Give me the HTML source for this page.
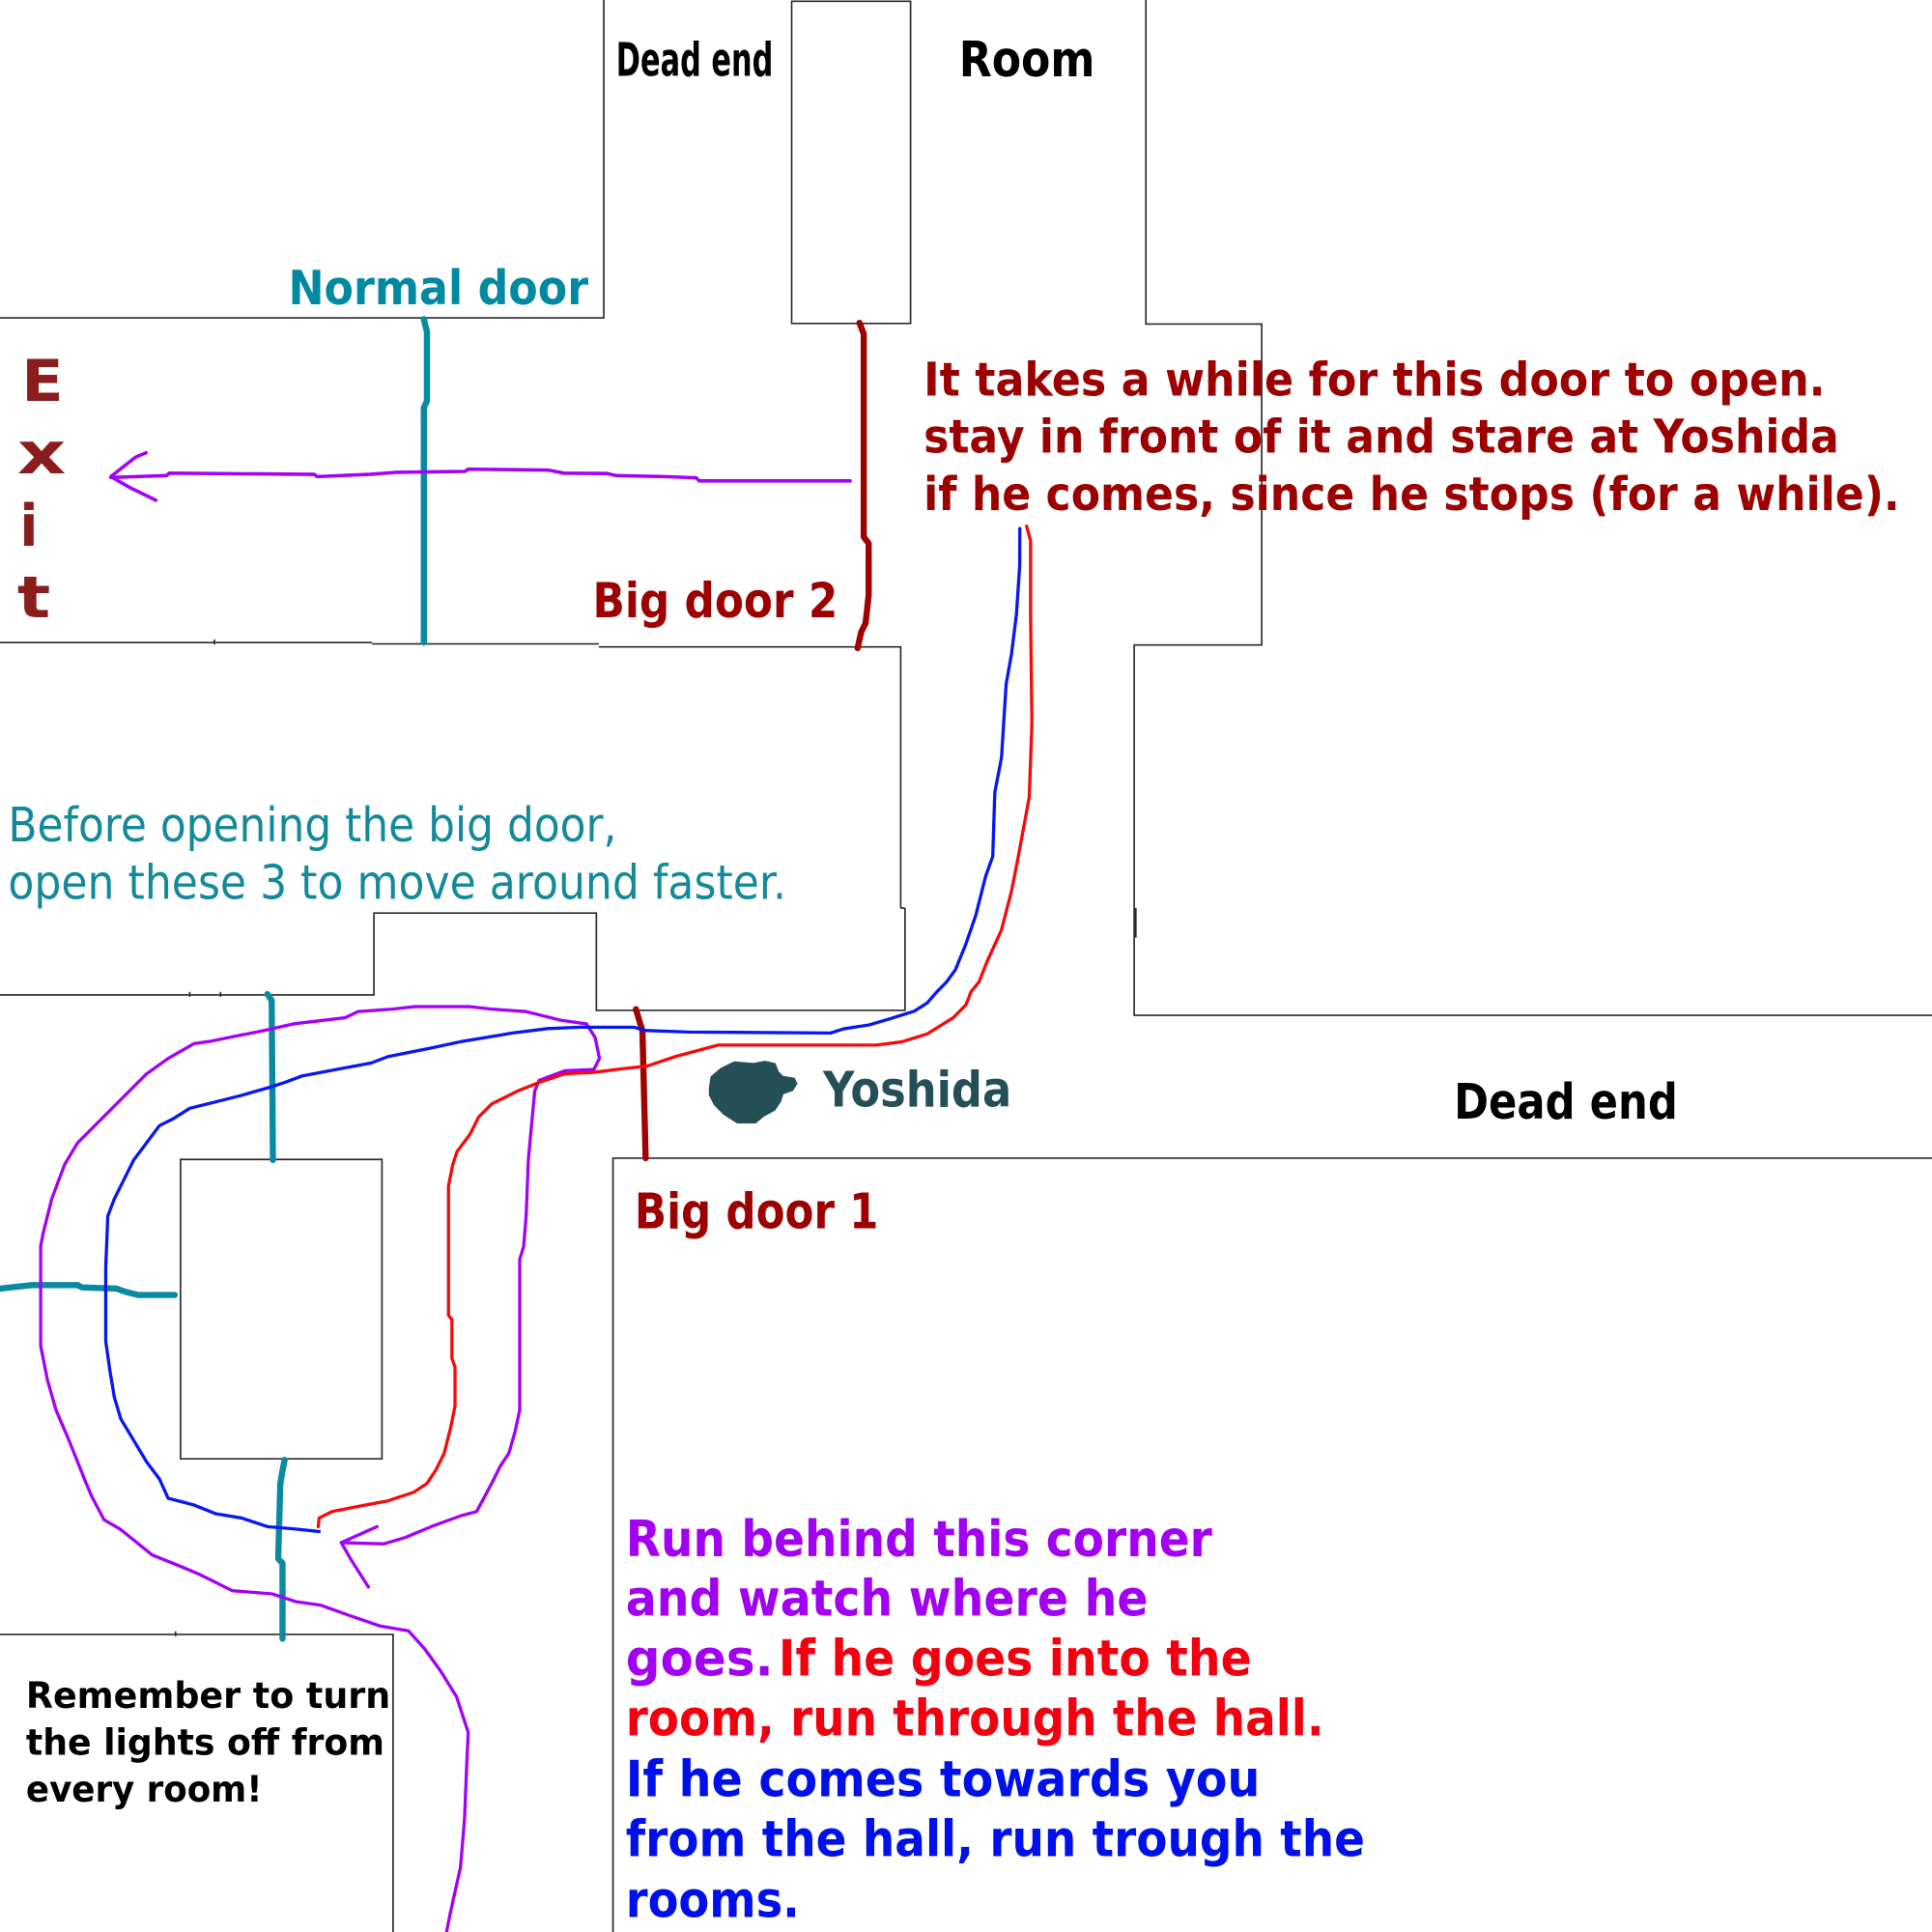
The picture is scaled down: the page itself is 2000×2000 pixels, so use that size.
<!DOCTYPE html>
<html>
<head>
<meta charset="utf-8">
<style>
  html, body { margin: 0; padding: 0; background: #ffffff; }
  svg { display: block; }
  text { font-family: "DejaVu Sans", "Liberation Sans", sans-serif; font-weight: bold; }
  .reg { font-weight: normal; }
</style>
</head>
<body>
<svg xmlns="http://www.w3.org/2000/svg" width="2000" height="2000" viewBox="0 0 1568 1568">
  <rect x="0" y="0" width="1568" height="1568" fill="#ffffff"/>

  <!-- Walls -->
  <g fill="none" stroke="#2a2a2a" stroke-width="1.3" stroke-linejoin="miter">
    <path d="M490,0 V258 H0"/>
    <path d="M642.5,1 H739 V262.5 H642.5 Z"/>
    <path d="M930,0 V263 H1024 V523.5 H920.5 V824 H1568"/>
    <path d="M0,521.5 H302 M302,522.6 H486 M486,525 H731 V737 M734.5,737 V820 H484 V741 H303.5 V807.5 H0"/>
    <path d="M731,737 H734.5"/>
    <path d="M146.5,941 H310 V1184 H146.5 Z"/>
    <path d="M497.5,1568 V940 H1568"/>
    <path d="M0,1326.5 H319 V1568"/>
    <path d="M174,519 V523 M154,805 V809 M179,805 V809 M142.5,1324 V1328"/>
  </g>
  <path d="M921.5,737 V761" stroke="#2a2a2a" stroke-width="2" fill="none"/>

  <!-- Teal doors -->
  <g fill="none" stroke="#0a8a9f" stroke-width="5" stroke-linecap="round" stroke-linejoin="round">
    <path d="M344,259 L346.5,269.5 L346.5,325.5 L344,330.8 L344,521.5"/>
    <path d="M217,806.8 L220.5,812 L221.5,941.5"/>
    <path d="M0,1045.8 L26,1043 L63,1043 L66.5,1044.8 L94.5,1045.8 L101.5,1048.3 L112,1051 L141.8,1051"/>
    <path d="M231,1184.8 L229.3,1193.5 L227.5,1204 L225.8,1265 L229.3,1268.8 L229.3,1330"/>
  </g>

  <!-- Dark red big doors -->
  <g fill="none" stroke="#a00000" stroke-width="5" stroke-linecap="round" stroke-linejoin="round">
    <path d="M697.5,262 L701,271 L701,435.8 L705,441 L705,483 L702.5,505.8 L699,512.8 L696,526"/>
    <path d="M516.1,819 L520.1,832.4 L521.4,836.3 L524,940"/>
  </g>

  <!-- Purple exit arrow -->
  <g fill="none" stroke="#a202f5" stroke-width="2.8" stroke-linecap="round" stroke-linejoin="round">
    <path d="M690,390.3 L567.5,390.3 L565,387.8 L540,386.8 L500,386 L492.5,384.3 L457.5,384 L445,381.5 L380,380.8 L377.5,382.6 L322.5,383.3 L300,385 L257.5,386.8 L255,385 L137.5,384 L135,386 L90,387.5"/>
    <path d="M118.5,367.5 L110,371 L90,386.8 L105,395.5 L126.5,406"/>
  </g>

  <!-- Purple loop path -->
  <g fill="none" stroke="#a202f5" stroke-width="2.6" stroke-linecap="round" stroke-linejoin="round">
    <path d="M362.4,1568 L365.6,1552 L373.7,1515.7 L377,1476.5 L378.6,1437 L380,1406 L370.5,1377 L357.5,1356 L344.5,1338 L331.5,1323.6 L308.7,1319.7 L286,1312 L260,1302.7 L240.5,1300 L221,1293.6 L188.5,1291 L162.5,1278 L146,1271 L123.5,1262 L97.5,1241 L84.5,1233.5 L74.7,1215 L70,1204 L56,1169 L45.5,1144.5 L38.5,1120 L33,1092 L33,1011.5 L35,1001 L42,973 L52.5,945 L63,927.5 L73.5,917 L87.5,903 L105,885.5 L119,871.5 L136.5,859 L157.5,847 L171.5,845 L196,840 L213.5,836.5 L238,831 L280,826 L290.5,821 L318.5,819 L336,817 L381.5,817 L399,819 L427,821 L455,828 L476,831 L483,842 L486.5,859 L482,868 L458.5,869 L437.5,876.8 L434,885.5 L432,906.5 L428.8,941.5 L427,987 L425,1011.5 L421.8,1022 L421.8,1144.5 L418,1162 L413,1179.5 L406,1190 L399,1204 L386.8,1226.8 L374.5,1230 L350,1239 L329,1247.8 L311.5,1253 L277,1252"/>
    <path d="M306,1239 L277,1252 L285,1266 L299,1288"/>
  </g>

  <!-- Blue path -->
  <path fill="none" stroke="#0718f0" stroke-width="2.6" stroke-linecap="round" stroke-linejoin="round"
    d="M827.7,429 L827.6,459 L824.9,499 L820.9,531 L816.6,555 L812.8,615 L807.4,643 L805.7,695 L800,711 L791.9,743 L783.6,767 L775.4,787 L768.2,797 L760.3,805 L752.5,814 L742,820.7 L721.2,827.2 L705.5,831.8 L684.6,835 L674.2,838.4 L559.3,837.6 L522.7,836.3 L514.8,833.7 L470.4,833.7 L444.5,834.8 L416.5,838.3 L395.5,841.8 L374.5,845.3 L350,850.5 L315,857.5 L301,862.8 L273,868 L245,873.3 L231,878.5 L220.5,882 L196,889 L175,894.3 L154,899.5 L140,908.3 L129.5,913.5 L119,927.5 L108.5,941.5 L101.5,955.5 L92.8,973 L87.5,987 L85.8,1029 L85.8,1088.5 L89.3,1113 L92.8,1134 L98,1151.5 L108.5,1169 L119,1186.5 L129.5,1200.5 L136.5,1216 L157.5,1221.5 L175,1228.5 L196,1232 L217,1239 L238,1240.8 L259,1243"/>

  <!-- Red path -->
  <path fill="none" stroke="#f80a0a" stroke-width="2.6" stroke-linecap="round" stroke-linejoin="round"
    d="M833.2,427 L836.4,439 L836.4,499 L837.5,587 L835.3,647 L826.5,695 L821,723 L812.7,755 L801.7,779 L794.5,797 L788,805 L784,815.5 L773.6,826 L752.8,839 L731.8,845.6 L710.9,848.2 L582.8,848.2 L548.8,857.3 L525.3,865.2 L501.8,867.8 L480.9,870.4 L458.5,871.5 L437.5,878.5 L420,885.5 L399,896 L388.5,906.5 L381.5,920.5 L371,934.5 L367.5,945 L364,962.5 L364,1067.5 L366.8,1071 L366.8,1102.5 L369.3,1109.5 L369.3,1141 L365.8,1158.5 L360.5,1179.5 L353.5,1193.5 L346.5,1204 L336,1211 L315,1218 L287,1223.3 L269.5,1226.8 L259,1232 L258.3,1239"/>

  <!-- Yoshida blob -->
  <path fill="#244f57" stroke="#244f57" stroke-width="2" stroke-linejoin="round"
    d="M576.3,883.3 L577.6,874.2 L585.4,867.6 L595.9,862.4 L611.6,863.7 L620.7,861.9 L628.6,863.7 L631.2,870.2 L635.1,874.2 L644.2,875.5 L646.1,879.4 L642.9,884.6 L635.1,887.2 L633,893.7 L628.6,900.3 L619.4,905.5 L612.9,910.8 L598.5,910.8 L588.1,904.2 L580.3,896.4 L576.3,888.6 Z"/>

  <!-- Labels -->
  <text x="500" y="61.5" font-size="38" fill="#000" textLength="127.5" lengthAdjust="spacingAndGlyphs">Dead end</text>
  <text x="778.3" y="62" font-size="40" fill="#000" textLength="110.3" lengthAdjust="spacingAndGlyphs">Room</text>
  <text x="234" y="247" font-size="38.5" fill="#0089a1" textLength="243.5" lengthAdjust="spacingAndGlyphs">Normal door</text>

  <text x="17.5" y="325.5" font-size="47" fill="#8c1d1d" textLength="34" lengthAdjust="spacingAndGlyphs">E</text>
  <text x="14" y="384.3" font-size="47" fill="#8c1d1d" textLength="39.5" lengthAdjust="spacingAndGlyphs">x</text>
  <text x="16" y="442.8" font-size="47" fill="#8c1d1d" textLength="15" lengthAdjust="spacingAndGlyphs">i</text>
  <text x="14" y="501" font-size="47" fill="#8c1d1d" textLength="27" lengthAdjust="spacingAndGlyphs">t</text>

  <text x="749.6" y="321.2" font-size="37.5" fill="#9c0000" textLength="731.8" lengthAdjust="spacingAndGlyphs">It takes a while for this door to open.</text>
  <text x="749.6" y="367.5" font-size="37.5" fill="#9c0000" textLength="743" lengthAdjust="spacingAndGlyphs">stay in front of it and stare at Yoshida</text>
  <text x="749.6" y="414" font-size="37.5" fill="#9c0000" textLength="792.3" lengthAdjust="spacingAndGlyphs">if he comes, since he stops (for a while).</text>

  <text x="481" y="501" font-size="39" fill="#9c0000" textLength="199" lengthAdjust="spacingAndGlyphs">Big door 2</text>

  <text class="reg" x="6.6" y="683" font-size="38.5" fill="#13899a" textLength="494" lengthAdjust="spacingAndGlyphs">Before opening the big door,</text>
  <text class="reg" x="6.6" y="729.5" font-size="38.5" fill="#13899a" textLength="631.6" lengthAdjust="spacingAndGlyphs">open these 3 to move around faster.</text>

  <text x="668" y="898.2" font-size="39.5" fill="#244f57" textLength="153" lengthAdjust="spacingAndGlyphs">Yoshida</text>
  <text x="1180" y="908" font-size="39.5" fill="#000" textLength="181.7" lengthAdjust="spacingAndGlyphs">Dead end</text>
  <text x="515" y="997" font-size="39.5" fill="#9c0000" textLength="198" lengthAdjust="spacingAndGlyphs">Big door 1</text>

  <text x="21.1" y="1386.3" font-size="29" fill="#000" textLength="295.8" lengthAdjust="spacingAndGlyphs">Remember to turn</text>
  <text x="21.1" y="1424.2" font-size="29" fill="#000" textLength="290.9" lengthAdjust="spacingAndGlyphs">the lights off from</text>
  <text x="21.1" y="1462.1" font-size="29" fill="#000" textLength="191.8" lengthAdjust="spacingAndGlyphs">every room!</text>

  <text x="507.8" y="1263" font-size="40.5" fill="#a100f2" textLength="476" lengthAdjust="spacingAndGlyphs">Run behind this corner</text>
  <text x="507.8" y="1311.4" font-size="40.5" fill="#a100f2" textLength="424" lengthAdjust="spacingAndGlyphs">and watch where he</text>
  <text x="507.8" y="1359.7" font-size="40.5" fill="#a100f2" textLength="119.9" lengthAdjust="spacingAndGlyphs">goes.</text>
  <text x="631.8" y="1359.7" font-size="40.5" fill="#f2000f" textLength="384" lengthAdjust="spacingAndGlyphs">If he goes into the</text>
  <text x="507.8" y="1408.6" font-size="40.5" fill="#f2000f" textLength="566.8" lengthAdjust="spacingAndGlyphs">room, run through the hall.</text>
  <text x="507.8" y="1457.8" font-size="40.5" fill="#0010ea" textLength="514.8" lengthAdjust="spacingAndGlyphs">If he comes towards you</text>
  <text x="507.8" y="1506.6" font-size="40.5" fill="#0010ea" textLength="600" lengthAdjust="spacingAndGlyphs">from the hall, run trough the</text>
  <text x="507.8" y="1555.7" font-size="40.5" fill="#0010ea" textLength="141.2" lengthAdjust="spacingAndGlyphs">rooms.</text>
</svg>
</body>
</html>
